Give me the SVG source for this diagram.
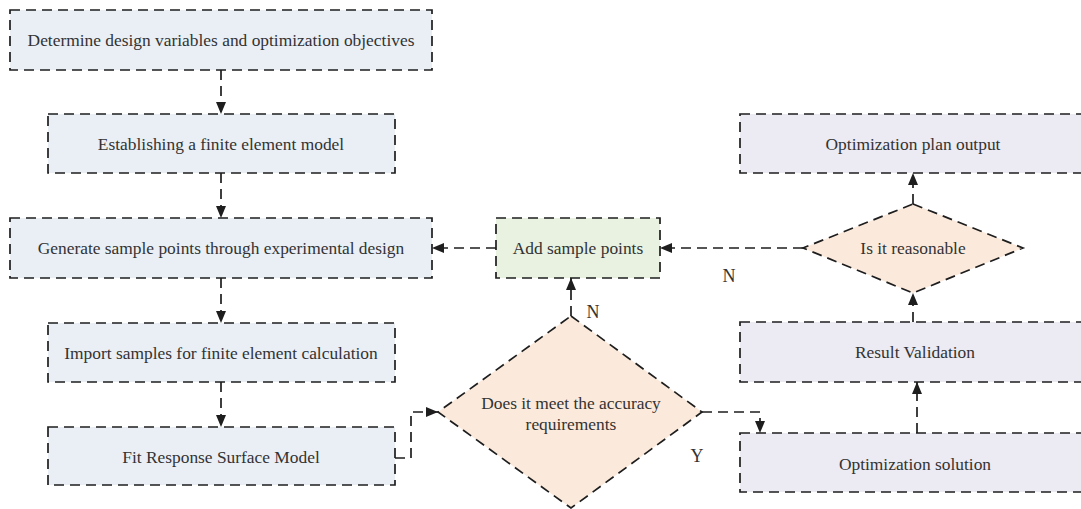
<svg xmlns="http://www.w3.org/2000/svg" width="1081" height="509" viewBox="0 0 1081 509">
<style>
.n{stroke:#1e1e1e;stroke-width:1.7;stroke-dasharray:10,6}
.blue{fill:#EAEFF6}
.green{fill:#E9F1E1}
.peach{fill:#FBEADB}
.lav{fill:#ECEAF2}
.t{font-family:"Liberation Serif","Times New Roman",serif;font-size:17.4px;fill:#333;text-anchor:middle;dominant-baseline:central}
.c{fill:none;stroke:#1e1e1e;stroke-width:1.7;stroke-dasharray:10,6}
.l{font-family:"Liberation Serif","Times New Roman",serif;font-size:18px;fill:#333;text-anchor:middle}
</style>
<defs>
<marker id="a" viewBox="0 0 12 10" refX="12" refY="5" markerWidth="12" markerHeight="10" markerUnits="userSpaceOnUse" orient="auto">
<path d="M0,0 L12,5 L0,10 z" fill="#1e1e1e"/>
</marker>
</defs>
<g id="n1"><rect class="n blue" x="10" y="10" width="422" height="60"/><text class="t" x="221" y="40">Determine design variables and optimization objectives</text></g>
<g id="n2"><rect class="n blue" x="48" y="114" width="347" height="59"/><text class="t" x="221" y="144">Establishing a finite element model</text></g>
<g id="n3"><rect class="n blue" x="10" y="218" width="422" height="60"/><text class="t" x="221" y="248">Generate sample points through experimental design</text></g>
<g id="n4"><rect class="n blue" x="48" y="323" width="347" height="59"/><text class="t" x="221" y="353">Import samples for finite element calculation</text></g>
<g id="n5"><rect class="n blue" x="48" y="427" width="347" height="58"/><text class="t" x="221" y="457">Fit Response Surface Model</text></g>
<g id="n6"><rect class="n green" x="496" y="218" width="164" height="60"/><text class="t" x="578" y="248">Add sample points</text></g>
<g id="n7"><polygon class="n peach" points="571,316 702,412 571,508 438,412"/><text class="t" x="571" y="403">Does it meet the accuracy</text><text class="t" x="571" y="424">requirements</text></g>
<g id="n8"><rect class="n lav" x="740" y="114" width="350" height="59"/><text class="t" x="913" y="144">Optimization plan output</text></g>
<g id="n9"><polygon class="n peach" points="913,204 1023,248 913,293 803,248"/><text class="t" x="913" y="248">Is it reasonable</text></g>
<g id="n10"><rect class="n lav" x="740" y="322" width="350" height="60"/><text class="t" x="915" y="352">Result Validation</text></g>
<g id="n11"><rect class="n lav" x="740" y="433" width="350" height="59"/><text class="t" x="915" y="464">Optimization solution</text></g>
<g id="connectors">
<path class="c" d="M221,70 V114" marker-end="url(#a)"/>
<path class="c" d="M221,173 V218" marker-end="url(#a)"/>
<path class="c" d="M221,278 V323" marker-end="url(#a)"/>
<path class="c" d="M221,382 V427" marker-end="url(#a)"/>
<path class="c" d="M395,458 H411 V412 H438" marker-end="url(#a)"/>
<path class="c" d="M571,316 V278" marker-end="url(#a)"/>
<path class="c" d="M496,248 H432" marker-end="url(#a)"/>
<path class="c" d="M803,248 H660" marker-end="url(#a)"/>
<path class="c" d="M702,412 H760 V433" marker-end="url(#a)"/>
<path class="c" d="M917,433 V382" marker-end="url(#a)"/>
<path class="c" d="M913,322 V293" marker-end="url(#a)"/>
<path class="c" d="M913,204 V173" marker-end="url(#a)"/>
<text class="l" x="593" y="318">N</text>
<text class="l" x="729" y="282">N</text>
<text class="l" x="697" y="462">Y</text>
</g>
</svg>
